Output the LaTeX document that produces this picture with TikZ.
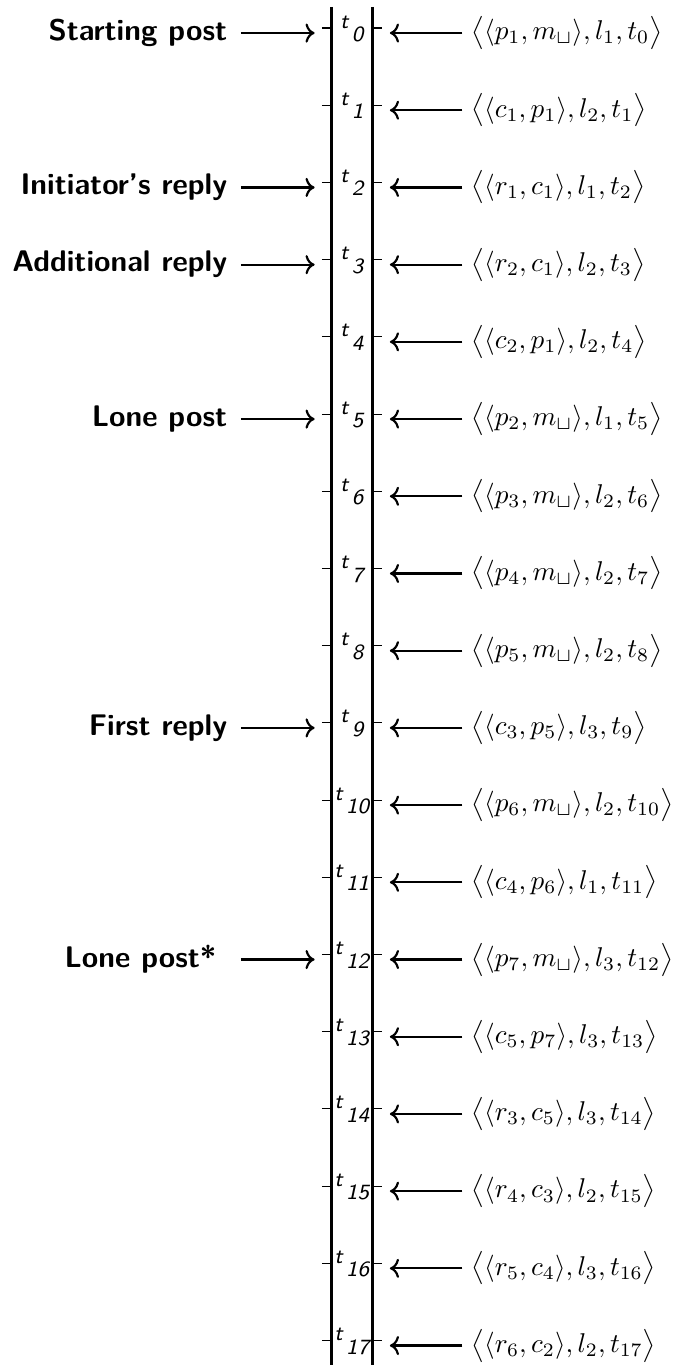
\documentclass[tikz,border=0pt]{standalone}
\usepackage{amsmath}
\usepackage{amssymb}
\usepackage{fontspec}
\usepackage{tikz}
\usetikzlibrary{positioning, arrows.meta}

\newcommand{\evtuple}[4]{$\bigl\langle\langle #1, #2\rangle, l_{#3}, t_{#4}\bigr\rangle$}

\begin{document}
\begin{tikzpicture}[scale=1.0,
    event/.style={anchor=west, inner xsep=3pt, inner ysep=0pt, font=\fontsize{10.2}{12}\selectfont},
    kind/.style={inner sep=0pt, font=\fontsize{11}{13}\selectfont\sffamily\bfseries},
    stamp/.style={anchor=base, inner sep=0pt, font=\footnotesize\sffamily\itshape}]
  \useasboundingbox (0,0) rectangle (8.82,-17.68);

  % Timeline
  \draw[line width=1.2pt] (4.29,-0.09) -- (4.29,-17.68);
  \draw[line width=1.2pt] (4.825,-0.09) -- (4.825,-17.68);

  % Time stamps and incoming tuples
  \foreach \i/\a/\b/\l in {0/p_1/m_{\sqcup}/1, 1/c_1/p_1/2, 2/r_1/c_1/1, 3/r_2/c_1/2,
      4/c_2/p_1/2, 5/p_2/m_{\sqcup}/1, 6/p_3/m_{\sqcup}/2, 7/p_4/m_{\sqcup}/2,
      8/p_5/m_{\sqcup}/2, 9/c_3/p_5/3, 10/p_6/m_{\sqcup}/2, 11/c_4/p_6/1,
      12/p_7/m_{\sqcup}/3, 13/c_5/p_7/3, 14/r_3/c_5/3, 15/r_4/c_3/2,
      16/r_5/c_4/3, 17/r_6/c_2/2} {
    \pgfmathsetmacro{\y}{-0.363-\i}
    \draw (4.17,\y) -- (4.29,\y);
    \draw (4.825,\y) -- (4.948,\y);
    \node[stamp] (t\i) at (4.556,\y) {t\,\raisebox{-5pt}{\i}};
    \coordinate (rt\i) at (5.05,\y-0.065);
    \node[event] (ev\i) at (5.99,\y-0.065) {\evtuple{\a}{\b}{\l}{\i}};
    \draw[->, thick] (ev\i) -- (rt\i);
  }

  % Kinds of posts
  \foreach \i/\txt/\gap in {0/Starting post/0.17, 2/Initiator's reply/0.17,
      3/Additional reply/0.17, 5/Lone post/0.17, 9/First reply/0.17, 12/Lone post*/0.31} {
    \pgfmathsetmacro{\y}{-0.363-\i-0.065}
    \coordinate (la\i) at (3.12,\y);
    \coordinate (lt\i) at (4.075,\y);
    \node[kind, left=\gap cm of la\i] (lab\i) {\txt};
    \draw[->, thick] (la\i) -- (lt\i);
  }
\end{tikzpicture}
\end{document}
